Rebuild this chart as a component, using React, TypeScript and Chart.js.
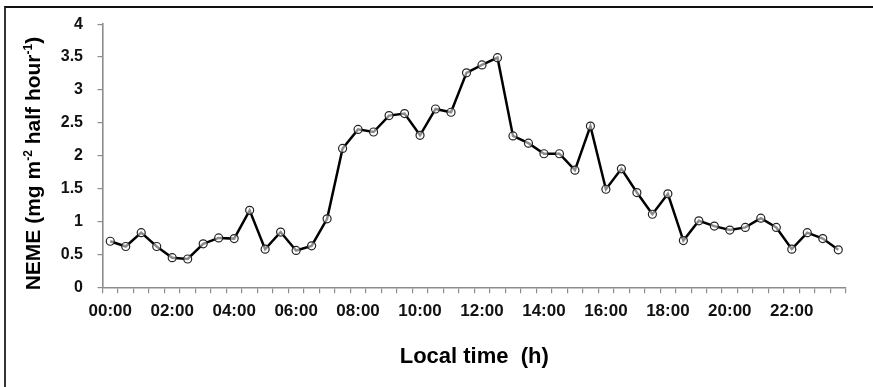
import React, { useEffect, useRef } from "react";
import { Chart, registerables } from "chart.js";

Chart.register(...registerables);

const categories = [
  "00:00", "00:30", "01:00", "01:30", "02:00", "02:30", "03:00", "03:30",
  "04:00", "04:30", "05:00", "05:30", "06:00", "06:30", "07:00", "07:30",
  "08:00", "08:30", "09:00", "09:30", "10:00", "10:30", "11:00", "11:30",
  "12:00", "12:30", "13:00", "13:30", "14:00", "14:30", "15:00", "15:30",
  "16:00", "16:30", "17:00", "17:30", "18:00", "18:30", "19:00", "19:30",
  "20:00", "20:30", "21:00", "21:30", "22:00", "22:30", "23:00", "23:30",
];

const nemeValues = [
  0.70, 0.62, 0.83, 0.62, 0.45, 0.43, 0.66, 0.75,
  0.74, 1.17, 0.58, 0.84, 0.56, 0.63, 1.04, 2.11,
  2.40, 2.36, 2.61, 2.64, 2.31, 2.71, 2.66, 3.26,
  3.38, 3.49, 2.30, 2.19, 2.03, 2.03, 1.78, 2.45,
  1.49, 1.80, 1.44, 1.11, 1.42, 0.71, 1.01, 0.93,
  0.87, 0.91, 1.05, 0.91, 0.58, 0.83, 0.74, 0.57,
];

const xTickLabels = [
  "00:00", "02:00", "04:00", "06:00", "08:00", "10:00",
  "12:00", "14:00", "16:00", "18:00", "20:00", "22:00",
];

const yTitleParts = [
  { text: "NEME (mg m", sup: false },
  { text: "-2", sup: true },
  { text: " half hour", sup: false },
  { text: "-1", sup: true },
  { text: ")", sup: false },
];
const xTitle = "Local time  (h)";

const FONT = "'Liberation Sans', Arial, 'DejaVu Sans', sans-serif";
const AXIS_GRAY = "#8c8c8c";

const yTitlePlugin = {
  id: "yTitleSup",
  afterDraw(chart: any) {
    const ctx = chart.ctx as CanvasRenderingContext2D;
    const area = chart.chartArea;
    ctx.save();
    ctx.translate(32, area.bottom + 3);
    ctx.rotate(-Math.PI / 2);
    ctx.textAlign = "left";
    ctx.textBaseline = "alphabetic";
    ctx.fillStyle = "#000000";
    let x = 0;
    for (const part of yTitleParts) {
      ctx.font = part.sup ? `bold 12px ${FONT}` : `bold 21px ${FONT}`;
      const dy = part.sup ? -8 : 0;
      ctx.fillText(part.text, x, 7.5 + dy);
      x += ctx.measureText(part.text).width;
    }
    ctx.restore();
  },
};

export default function App() {
  const canvasRef = useRef<HTMLCanvasElement | null>(null);

  useEffect(() => {
    if (!canvasRef.current) return;
    const chart = new Chart(canvasRef.current, {
      type: "line",
      data: {
        labels: categories,
        datasets: [
          {
            data: nemeValues,
            borderColor: "#000000",
            borderWidth: 2.5,
            pointRadius: 4,
            pointBorderWidth: 1.2,
            pointBorderColor: "#222222",
            pointBackgroundColor: "rgba(255,255,255,0.55)",
            tension: 0,
            fill: false,
          },
        ],
      },
      options: {
        responsive: false,
        animation: false,
        devicePixelRatio: 1,
        layout: { padding: { left: 0, right: 27, top: 21.7, bottom: 0 } },
        plugins: {
          legend: { display: false },
          tooltip: { enabled: false },
        },
        scales: {
          x: {
            type: "category",
            offset: true,
            afterFit: (scale: any) => {
              scale.height = 99.7;
            },
            grid: {
              display: true,
              offset: true,
              drawOnChartArea: false,
              drawTicks: true,
              tickLength: 6,
              color: AXIS_GRAY,
              lineWidth: 1.2,
            },
            border: { display: true, color: AXIS_GRAY, width: 1.6 },
            ticks: {
              autoSkip: false,
              maxRotation: 0,
              minRotation: 0,
              padding: 8,
              color: "#111111",
              font: { family: FONT, size: 17, weight: "bold" },
              callback: function (this: any, _v: any, idx: number) {
                const lab = categories[idx];
                return xTickLabels.includes(lab) ? lab : "";
              },
            },
            title: {
              display: true,
              text: xTitle,
              color: "#000000",
              font: { family: FONT, size: 22, weight: "bold" },
              padding: { top: 0, bottom: 16.8 },
            },
          },
          y: {
            min: 0,
            max: 4,
            afterFit: (scale: any) => {
              scale.width = 102.5;
            },
            grid: {
              display: true,
              drawOnChartArea: false,
              drawTicks: true,
              tickLength: 5,
              color: AXIS_GRAY,
              lineWidth: 1.2,
            },
            border: { display: true, color: AXIS_GRAY, width: 1.6 },
            ticks: {
              stepSize: 0.5,
              padding: 14.5,
              color: "#111111",
              font: { family: FONT, size: 16, weight: "bold" },
              callback: (v: any) => String(Number(v)),
            },
          },
        },
      },
      plugins: [yTitlePlugin],
    });
    return () => chart.destroy();
  }, []);

  return (
    <div
      style={{
        position: "fixed",
        left: 0,
        top: 0,
        width: 873,
        height: 387,
        background: "#ffffff",
        overflow: "hidden",
      }}
    >
      <canvas
        ref={canvasRef}
        width={873}
        height={387}
        style={{ position: "absolute", left: 0, top: 0, width: 873, height: 387 }}
      />
      <div
        style={{
          position: "absolute",
          left: 4,
          top: 6,
          width: 873,
          height: 387,
          borderTop: "2px solid #111111",
          borderLeft: "2px solid #333333",
          boxSizing: "border-box",
          pointerEvents: "none",
        }}
      />
    </div>
  );
}
